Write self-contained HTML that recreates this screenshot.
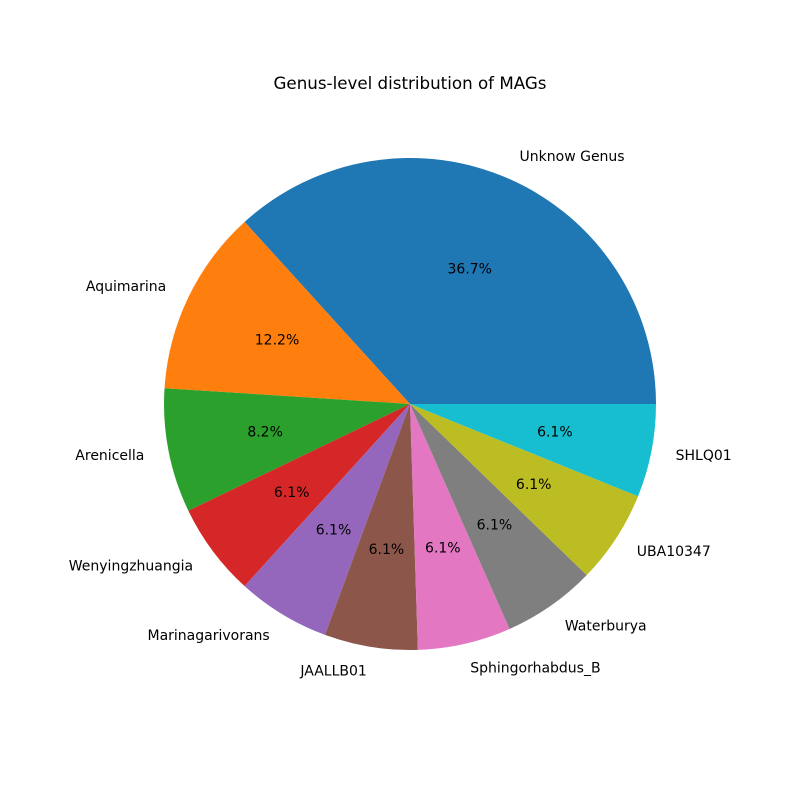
<!DOCTYPE html>
<html>
<head>
<meta charset="utf-8">
<style>
  html, body { margin: 0; padding: 0; background: #fff; }
  svg { display: block; }
  text { font-family: "DejaVu Sans", "Liberation Sans", sans-serif; fill: #000; }
</style>
</head>
<body>
<svg id="chart" width="800" height="800" viewBox="0 0 800 800" xmlns="http://www.w3.org/2000/svg">
  <rect width="800" height="800" fill="#fff"></rect>
  <text x="410" y="89" text-anchor="middle" font-size="16.7">Genus-level distribution of MAGs</text>
  <g id="slices"></g>
  <g id="labels"></g>
</svg>
<script>
const categories = ["Unknow Genus","Aquimarina","Arenicella","Wenyingzhuangia","Marinagarivorans","JAALLB01","Sphingorhabdus_B","Waterburya","UBA10347","SHLQ01"];
const counts = [18, 6, 4, 3, 3, 3, 3, 3, 3, 3];
const colors = ["#1f77b4","#ff7f0e","#2ca02c","#d62728","#9467bd","#8c564b","#e377c2","#7f7f7f","#bcbd22","#17becf"];

const cx = 410, cy = 404, r = 246;
const total = counts.reduce((a, b) => a + b, 0);
const svgNS = "http://www.w3.org/2000/svg";
const gS = document.getElementById("slices");
const gL = document.getElementById("labels");
function pt(a, rad) { return [cx + rad * Math.cos(a), cy - rad * Math.sin(a)]; }

let start = 0;
counts.forEach((v, i) => {
  const frac = v / total;
  const end = start + frac * 2 * Math.PI;
  const [x1, y1] = pt(start, r);
  const [x2, y2] = pt(end, r);
  const large = frac > 0.5 ? 1 : 0;
  const p = document.createElementNS(svgNS, "path");
  p.setAttribute("d", `M${cx},${cy} L${x1},${y1} A${r},${r} 0 ${large} 0 ${x2},${y2} Z`);
  p.setAttribute("fill", colors[i]);
  
  
  gS.appendChild(p);

  const mid = (start + end) / 2;
  const [lx, ly] = pt(mid, 1.1 * r);
  const t = document.createElementNS(svgNS, "text");
  t.setAttribute("x", lx);
  t.setAttribute("y", ly + 4.5);
  t.setAttribute("font-size", "14");
  t.setAttribute("text-anchor", Math.cos(mid) >= 0 ? "start" : "end");
  t.textContent = categories[i];
  
  
  gL.appendChild(t);

  const [px, py] = pt(mid, 0.6 * r);
  const pc = document.createElementNS(svgNS, "text");
  pc.setAttribute("x", px);
  pc.setAttribute("y", py + 4.5);
  pc.setAttribute("font-size", "14");
  pc.setAttribute("text-anchor", "middle");
  pc.textContent = (frac * 100).toFixed(1) + "%";
  
  
  gL.appendChild(pc);

  start = end;
});
</script>
</body>
</html>
